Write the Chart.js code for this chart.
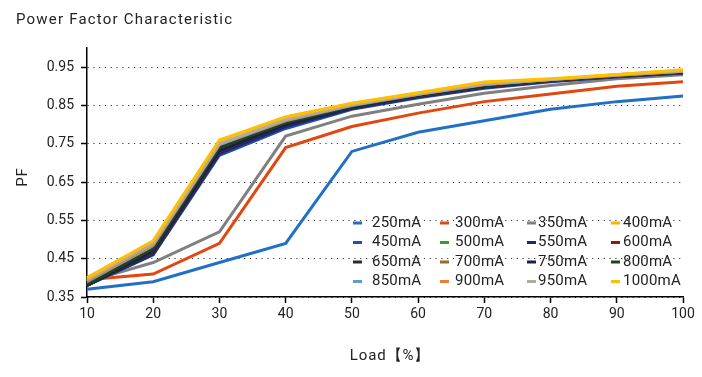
<!DOCTYPE html>
<html>
<head>
<meta charset="utf-8">
<script src="https://cdn.jsdelivr.net/npm/chart.js@4.4.0/dist/chart.umd.min.js"></script>
<style>
  html, body { margin: 0; padding: 0; background: #fff; }
  #wrap { width: 702px; height: 377px; }
</style>
</head>
<body>
<div id="wrap"><canvas id="pfChart" width="702" height="377"></canvas></div>
<script>
// Power factor vs load, one line per output current
const loads = ['10', '20', '30', '40', '50', '60', '70', '80', '90', '100'];
const yTicks = [0.35, 0.45, 0.55, 0.65, 0.75, 0.85, 0.95];

const currents = ['250mA', '300mA', '350mA', '400mA', '450mA', '500mA', '550mA', '600mA', '650mA', '700mA',
  '750mA', '800mA', '850mA', '900mA', '950mA', '1000mA'];

const pf250 = [0.37, 0.39, 0.44, 0.49, 0.73, 0.78, 0.81, 0.84, 0.86, 0.875];
const pf300 = [0.395, 0.41, 0.49, 0.74, 0.795, 0.83, 0.86, 0.88, 0.90, 0.912];
const pf350 = [0.39, 0.44, 0.52, 0.77, 0.822, 0.853, 0.882, 0.902, 0.92, 0.93];
const pf400 = [0.40, 0.495, 0.758, 0.82, 0.855, 0.882, 0.91, 0.918, 0.93, 0.942];
const pf450 = [0.38, 0.46, 0.72, 0.79, 0.84, 0.87, 0.895, 0.912, 0.925, 0.935];
const pf500 = [0.38, 0.465, 0.728, 0.80, 0.845, 0.875, 0.90, 0.915, 0.926, 0.935];
const pf550 = [0.38, 0.462, 0.725, 0.795, 0.842, 0.872, 0.897, 0.913, 0.925, 0.935];
const pf600 = [0.383, 0.468, 0.73, 0.80, 0.845, 0.875, 0.90, 0.915, 0.927, 0.936];
const pf650 = [0.38, 0.47, 0.733, 0.80, 0.845, 0.876, 0.90, 0.916, 0.927, 0.936];
const pf700 = [0.384, 0.474, 0.735, 0.803, 0.846, 0.876, 0.90, 0.916, 0.927, 0.937];
const pf750 = [0.38, 0.472, 0.732, 0.801, 0.845, 0.876, 0.90, 0.916, 0.927, 0.936];
const pf800 = [0.382, 0.476, 0.74, 0.805, 0.848, 0.878, 0.902, 0.917, 0.928, 0.937];
const pf850 = [0.39, 0.485, 0.748, 0.81, 0.85, 0.879, 0.905, 0.918, 0.929, 0.939];
const pf900 = [0.392, 0.487, 0.749, 0.811, 0.851, 0.879, 0.905, 0.918, 0.929, 0.939];
const pf950 = [0.395, 0.49, 0.75, 0.813, 0.852, 0.88, 0.906, 0.918, 0.93, 0.94];
const pf1000 = [0.40, 0.497, 0.76, 0.82, 0.856, 0.883, 0.911, 0.92, 0.931, 0.943];

const seriesValues = [pf250, pf300, pf350, pf400, pf450, pf500, pf550, pf600, pf650, pf700,
  pf750, pf800, pf850, pf900, pf950, pf1000];

const colors = ['#2170c8', '#e0480f', '#808080', '#ffb000', '#1f4fb5', '#3c9a2a', '#1a2a6c', '#8a1a10',
  '#2b2b2b', '#9a6a28', '#15204d', '#21431a', '#5a9bd5', '#ed7d31', '#b0aaa0', '#ffc000'];

const FONT = 'Roboto, "DejaVu Sans", sans-serif';
const TEXT = '#222';

// legend grid (4 columns x 4 rows) drawn inside the plot
const legendCols = [{ mark: 353, text: 372 }, { mark: 440, text: 455 }, { mark: 527, text: 538 }, { mark: 611, text: 623 }];
const legendRows = [223, 242.5, 262, 281.5];

const textPlugin = {
  id: 'texts',
  afterDraw(chart) {
    const ctx = chart.ctx;
    ctx.save();
    ctx.fillStyle = TEXT;
    ctx.letterSpacing = '1.2px';
    ctx.font = '15px ' + FONT;
    ctx.textBaseline = 'middle';
    ctx.textAlign = 'left';
    ctx.fillText('Power Factor Characteristic', 16, 20);

    ctx.letterSpacing = '0.9px';
    ctx.textAlign = 'center';
    ctx.fillText('Load【%】', 390, 356);

    ctx.save();
    ctx.translate(23, 177);
    ctx.rotate(-Math.PI / 2);
    ctx.fillText('PF', 0, 0);
    ctx.restore();

    // legend
    ctx.font = '15px ' + FONT;
    ctx.letterSpacing = '0.2px';
    ctx.textAlign = 'left';
    chart.data.datasets.forEach(function(ds, i) {
      const col = legendCols[i % 4];
      const y = legendRows[Math.floor(i / 4)];
      ctx.fillStyle = ds.borderColor;
      ctx.fillRect(col.mark, y - 1.5, 9, 3);
      ctx.fillStyle = TEXT;
      ctx.fillText(ds.label, col.text, y);
    });
    ctx.restore();
  }
};

const datasets = currents.map(function(name, i) {
  return {
    label: name,
    data: seriesValues[i],
    borderColor: colors[i],
    backgroundColor: colors[i],
    borderWidth: 3,
    pointRadius: 0,
    tension: 0,
    order: currents.length - i
  };
});

new Chart(document.getElementById('pfChart'), {
  type: 'line',
  data: { labels: loads, datasets: datasets },
  options: {
    responsive: false,
    animation: false,
    devicePixelRatio: 1,
    layout: { padding: { top: 48, right: 19, left: 0, bottom: 0 } },
    plugins: {
      legend: { display: false },
      title: { display: false },
      tooltip: { enabled: false }
    },
    scales: {
      x: {
        offset: false,
        afterFit: function(scale) { scale.height = 80; },
        border: { display: true, color: '#000', width: 1.5 },
        grid: { drawOnChartArea: false, drawTicks: true, tickLength: 6, tickColor: '#000', tickWidth: 1.5 },
        ticks: { color: TEXT, font: { family: FONT, size: 14 }, padding: 3, maxRotation: 0, autoSkip: false }
      },
      y: {
        min: 0.35,
        max: 1.0,
        afterFit: function(scale) { scale.width = 87; },
        afterBuildTicks: function(scale) {
          scale.ticks = yTicks.map(function(v) { return { value: v }; });
        },
        border: { display: true, color: '#000', width: 1.5, dash: [1.2, 4.6] },
        grid: {
          color: '#333',
          lineWidth: 1,
          tickLength: 6,
          tickColor: '#000',
          tickWidth: 1.5,
          tickBorderDash: []
        },
        ticks: {
          color: TEXT,
          font: { family: FONT, size: 14 },
          padding: 7,
          callback: function(v) { return Number(v).toFixed(2); }
        }
      }
    }
  },
  plugins: [textPlugin]
});
</script>
</body>
</html>
